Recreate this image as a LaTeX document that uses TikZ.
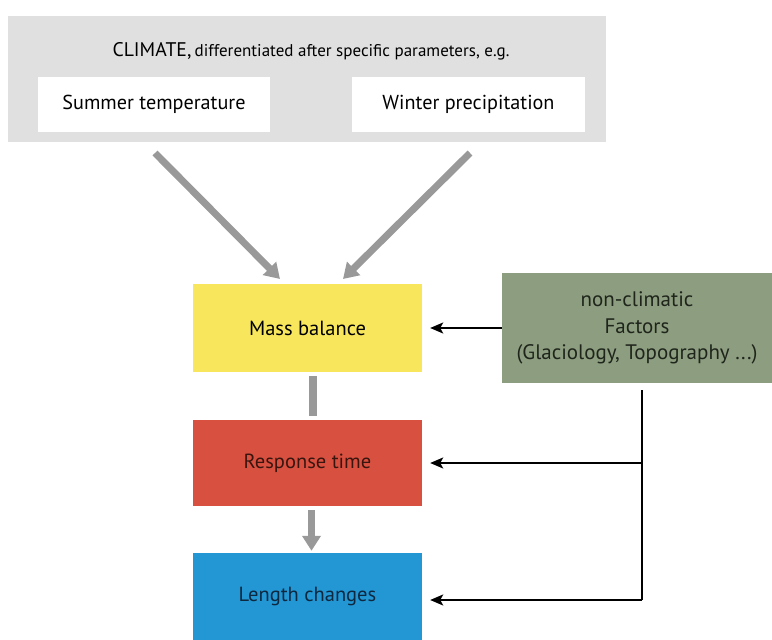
\documentclass[tikz,border=0pt]{standalone}
\usepackage{fontspec}
\setmainfont{PT Sans}
\usetikzlibrary{arrows.meta,calc}
\definecolor{boxgray}{HTML}{E0E0E0}
\definecolor{arrgray}{HTML}{999999}
\definecolor{massyellow}{HTML}{F8E65C}
\definecolor{respred}{HTML}{D85140}
\definecolor{lenblue}{HTML}{2297D4}
\definecolor{factgreen}{HTML}{8D9D80}
\definecolor{resptext}{HTML}{3A1510}
\definecolor{lentext}{HTML}{0E2840}
\definecolor{facttext}{HTML}{1F251B}
\tikzset{
  flowbox/.style={rectangle, inner sep=0pt, align=center, font=\fontsize{20.5}{26.5}\selectfont},
  whitebox/.style={rectangle, fill=white, inner sep=0pt, minimum width=232pt, minimum height=55pt, font=\fontsize{20.2}{24}\selectfont},
  grayarrow/.style={draw=arrgray, line width=7pt, -{Triangle[width=18pt,length=15pt]}},
  grayline/.style={draw=arrgray, line width=8pt},
  blackarrow/.style={draw=black, line width=2pt, -{Stealth[width=11pt,length=13pt,inset=3pt]}},
  blackline/.style={draw=black, line width=2pt}
}
\begin{document}
\begin{tikzpicture}[x=1pt,y=-1pt]
\useasboundingbox (0,0) rectangle (772,640);
% climate box
\node[rectangle, fill=boxgray, inner sep=0pt, minimum width=598pt, minimum height=126pt] (climate) at (307,79) {};
\node[inner sep=0pt, anchor=base] (title) at (311,56) {\fontsize{19.7}{23}\selectfont CLIMATE,\,{\fontsize{17}{20}\selectfont differentiated after specific parameters, e.g.}};
\node[whitebox] (summer) at (154,104.5) {Summer temperature};
\node[whitebox, minimum width=233pt] (winter) at (468.5,104.5) {Winter precipitation};
% flow boxes
\node[flowbox, fill=massyellow, minimum width=229pt, minimum height=88pt] (mass) at (307.5,328) {Mass balance};
\node[flowbox, fill=respred, text=resptext, minimum width=229pt, minimum height=86pt] (resp) at (307.5,463) {Response time};
\node[flowbox, fill=lenblue, text=lentext, minimum width=229pt, minimum height=87pt] (len) at (307.5,596.5) {Length changes};
\node[flowbox, fill=factgreen, text=facttext, minimum width=270pt, minimum height=110pt, font=\fontsize{21}{26.5}\selectfont] (fact) at (637,328) {non-climatic\\Factors\\(Glaciology, Topography ...)};
% gray arrows from climate
\coordinate (ls) at (155,153);
\coordinate (le) at (280,279);
\coordinate (rs) at (470,153);
\coordinate (re) at (343,279);
\draw[grayarrow] (ls) -- (le);
\draw[grayarrow] (rs) -- (re);
% gray connectors in the chain
\draw[grayline] ($(mass.south)+(5,4)$) -- ($(resp.north)+(5,-4)$);
\draw[grayarrow] ($(resp.south)+(4,4)$) -- ($(len.north)+(4,-2)$);
% black arrows
\draw[blackarrow] (fact.west) -- ($(mass.east)+(8,0)$);
\coordinate (vtop) at (642,390);
\coordinate (vbot) at (642,600);
\draw[blackline] (vtop) -- (vbot);
\draw[blackarrow] (642,463) -- ($(resp.east)+(8,0)$);
\draw[blackarrow] (vbot) -- ($(len.east)+(8,3.5)$);
\end{tikzpicture}
\end{document}
